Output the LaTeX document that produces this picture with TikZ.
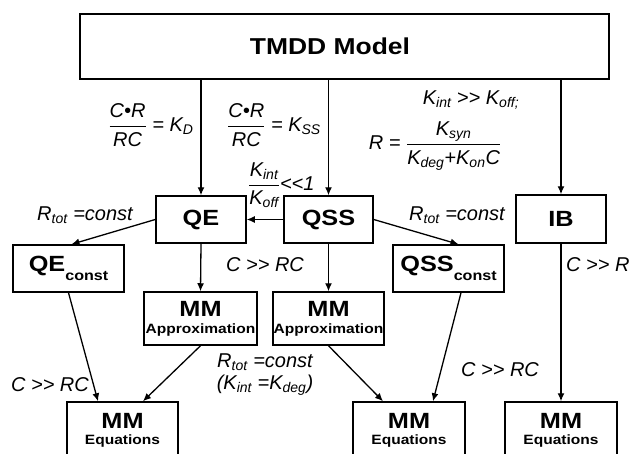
\documentclass[tikz,border=0pt]{standalone}
\usepackage{amsmath}
\usepackage{fontspec}
\setmainfont{Liberation Sans}[Ligatures=TeXOff]
\newfontfamily\bxf{Liberation Sans}[FakeStretch=1.15,Ligatures=TeXOff]
\usetikzlibrary{arrows.meta}
\tikzset{
  box/.style={draw,line width=1.5pt,minimum width=90pt,minimum height=47pt,inner sep=0pt,align=center,font=\bxf\bfseries\fontsize{22}{24}\selectfont},
  wbox/.style={box,minimum width=111pt},
  mmbox/.style={box,minimum width=112pt,minimum height=53pt,font=\bxf\bfseries\fontsize{22}{17}\selectfont},
  lbl/.style={inner sep=0pt,align=center,font=\fontsize{20}{22}\selectfont\itshape},
  arr/.style={-{Latex[length=8pt,width=7pt]},line width=1.3pt}
}
\newcommand{\sbs}[1]{\ensuremath{_{\text{\itshape #1}}}}
\newcommand{\frc}[2]{\ensuremath{\dfrac{\text{\itshape #1}}{\text{\itshape #2}}}}
\newcommand{\cst}{\raisebox{-9pt}{\fontsize{14}{14}\selectfont const}}
\newcommand{\sm}{\fontsize{13.5}{14}\selectfont}

\begin{document}
\begin{tikzpicture}[x=1pt,y=-1pt]
\clip (0,0) rectangle (631,453);
\fill[white] (0,0) rectangle (631,453);
% boxes
\node[box,minimum width=529pt,minimum height=65pt,font=\bxf\bfseries\fontsize{23}{24}\selectfont] (tmdd) at (344.5,46.5) {TMDD Model\hspace*{29pt}};
\node[box] (qe) at (201,219.5) {QE};
\node[box,minimum width=89pt] (qss) at (328.5,219.5) {QSS};
\node[box,minimum height=48pt] (ib) at (561,219) {IB};
\node[wbox] (qec) at (68.5,268.5) {QE\cst};
\node[wbox] (qssc) at (448.5,268.5) {QSS\cst};
\node[mmbox,minimum width=113pt] (mma1) at (200.5,318.5) {MM\\\sm Approximation};
\node[mmbox,minimum width=111pt] (mma2) at (328.5,318.5) {MM\\\sm Approximation};
\node[mmbox,minimum width=111pt,minimum height=56pt,font=\bxf\bfseries\fontsize{22}{16}\selectfont] (mme1) at (122.5,430) {MM\\\sm Equations};
\node[mmbox,minimum height=56pt,font=\bxf\bfseries\fontsize{22}{16}\selectfont] (mme2) at (409,430) {MM\\\sm Equations};
\node[mmbox,minimum height=56pt,font=\bxf\bfseries\fontsize{22}{16}\selectfont] (mme3) at (561,430) {MM\\\sm Equations};
% connectors
\draw[arr] (tmdd.south -| qe.north) -- (qe.north);
\draw[arr] (tmdd.south -| qss.north) -- (qss.north);
\draw[arr] (tmdd.south -| ib.north) -- (ib.north);
\draw[arr] (qss.west) -- (qe.east);
\draw[arr] (qe.west) -- ([xshift=3pt]qec.north);
\draw[arr] (qss.east) -- ([xshift=10pt]qssc.north);
\draw[arr] (qe.south) -- (mma1.north);
\draw[arr] (qss.south) -- (mma2.north);
\draw[arr] (qec.south) -- ([xshift=-24.5pt]mme1.north);
\draw[arr] (mma1.south) -- ([xshift=20.5pt]mme1.north);
\draw[arr] (mma2.south) -- ([xshift=-26pt]mme2.north);
\draw[arr] ([xshift=12.5pt]qssc.south) -- ([xshift=24pt]mme2.north);
\draw[arr] (ib.south) -- (mme3.north);
% labels
\node[lbl] (kd) at (151,125) {\frc{C•R}{RC} = K\sbs{D}};
\node[lbl] (kss) at (274,125) {\frc{C•R}{RC} = K\sbs{SS}};
\node[lbl,anchor=west] (kint) at (248,185) {\frc{K\sbs{int}}{K\sbs{off}}<<1};
\node[lbl] (kgg) at (471,100) {K\sbs{int} >> K\sbs{off;}};
\node[lbl] (rsyn) at (435,146) {R = \frc{K\sbs{syn}}{K\sbs{deg}+K\sbs{on}C}};
\node[lbl] (rtot1) at (85,215) {R\sbs{tot} =const};
\node[lbl] (rtot2) at (457,215) {R\sbs{tot} =const};
\node[lbl] (crc1) at (265,265) {C >> RC};
\node[lbl,anchor=west] (cr) at (566,265) {C >> R};
\node[lbl] (crc2) at (50,385) {C >> RC};
\node[lbl] (rtot3) at (265,375) {R\sbs{tot} =const\\(K\sbs{int} =K\sbs{deg})};
\node[lbl] (crc3) at (500,370) {C >> RC};
\end{tikzpicture}
\end{document}
